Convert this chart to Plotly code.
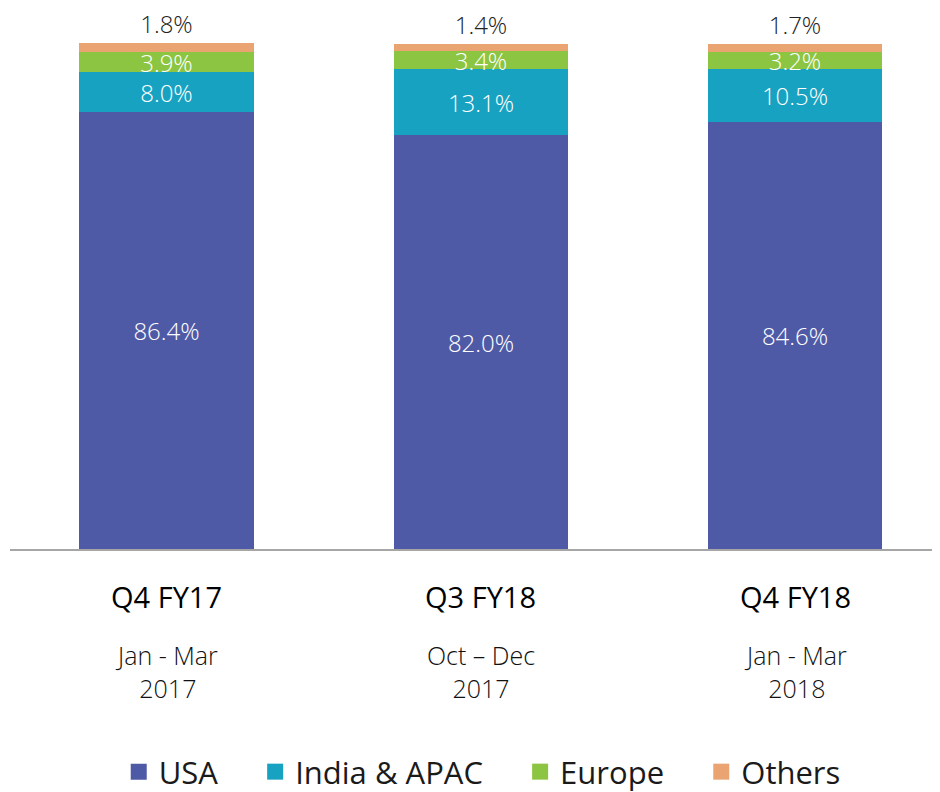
import plotly.graph_objects as go

# %% data
quarters = ["Q4 FY17", "Q3 FY18", "Q4 FY18"]
periods = ["Jan - Mar<br>2017", "Oct – Dec<br>2017", "Jan - Mar<br>2018"]

usa = [86.4, 82.0, 84.6]
india_apac = [8.0, 13.1, 10.5]
europe = [3.9, 3.4, 3.2]
others = [1.8, 1.4, 1.7]

series = [
    ("USA", usa, "#4F5AA7"),
    ("India & APAC", india_apac, "#18A2C1"),
    ("Europe", europe, "#8BC541"),
    ("Others", others, "#E9A472"),
]

FONT = "Open Sans"

# %% figure
fig = go.Figure()

for name, vals, color in series:
    is_top = name == "Others"
    fig.add_trace(go.Bar(
        x=quarters,
        y=vals,
        name=name,
        width=0.554,
        marker=dict(color=color, line=dict(width=0)),
        text=[f"{v:.1f}%" for v in vals],
        textposition="outside" if is_top else "inside",
        insidetextanchor="middle",
        constraintext="none",
        cliponaxis=False,
        textfont=dict(family=FONT, size=24, weight=300,
                      color="#222222" if is_top else "white"),
        showlegend=False,
    ))
    # legend entry with a square symbol
    fig.add_trace(go.Scatter(
        x=[None], y=[None],
        mode="markers",
        name=name + "\u00a0" * 4,
        marker=dict(symbol="square", size=20, color=color),
    ))

# category labels under the axis
for q, p in zip(quarters, periods):
    fig.add_annotation(x=q, y=0, xref="x", yref="paper", text=q,
                       showarrow=False, yanchor="middle", yshift=-47,
                       font=dict(family=FONT, size=29, color="black"))
    fig.add_annotation(x=q, y=0, xref="x", yref="paper", text=p,
                       showarrow=False, yanchor="middle", yshift=-122,
                       font=dict(family=FONT, size=25, weight=300, color="#111111"))

# page body adds an 8px offset, so the figure is 8px smaller each way
fig.update_layout(
    width=932, height=784,
    barmode="stack",
    bargap=0,
    plot_bgcolor="white",
    paper_bgcolor="white",
    margin=dict(l=2, r=0, t=35, b=243),
    font=dict(family=FONT),
    xaxis=dict(range=[-0.498, 2.461], showticklabels=False, ticks="",
               showline=True, linecolor="#A6A6A6", linewidth=2,
               showgrid=False, zeroline=False, fixedrange=True),
    yaxis=dict(range=[0, 100.15], visible=False, showgrid=False, zeroline=False),
    legend=dict(orientation="h", xref="container", yref="container",
                x=0.526, xanchor="center", y=0.0255, yanchor="middle",
                traceorder="normal",
                font=dict(family=FONT, size=31, color="#1a1a1a"),
                itemclick=False),
)

fig.write_html("out.html")
